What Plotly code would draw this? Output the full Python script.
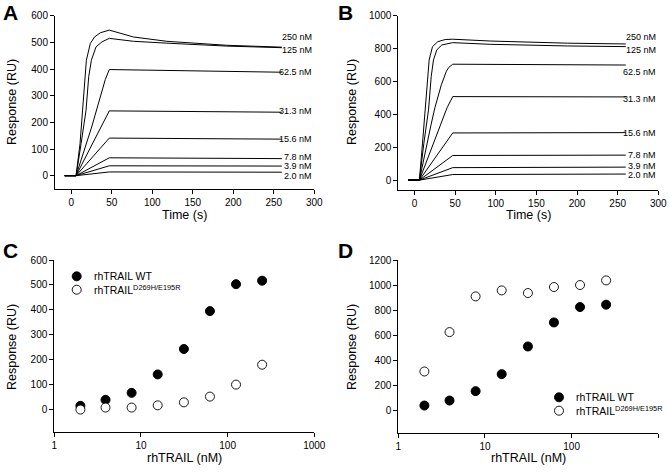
import plotly.graph_objects as go

# ---------------- Panel A (rhTRAIL WT sensorgrams) ----------------
A_t_250 = [-8, 6, 10.9, 14.2, 16.7, 18.7, 23.6, 29, 36, 47, 77, 118, 192, 260]
A_r_250 = [0, 0, 120, 245, 371, 433, 496, 521, 536, 546, 520, 504, 489, 482]
A_t_125 = [-8, 6, 12.2, 18.3, 21.6, 24.9, 30.6, 38, 47, 77, 118, 192, 260]
A_r_125 = [0, 0, 120, 245, 371, 433, 483, 502, 515, 504, 497, 486, 480]
A_t_625 = [-8, 6, 25.3, 37.4, 42, 47, 260]
A_r_625 = [0, 0, 183, 310, 360, 398, 388]
A_t_low = [-8, 6, 47, 260]
A_r_313 = [0, 0, 243, 238]
A_r_156 = [0, 0, 141, 137]
A_r_78 = [0, 0, 67, 64]
A_r_39 = [0, 0, 37, 36]
A_r_20 = [0, 0, 14, 13]
A_labels = ["250 nM", "125 nM", "62.5 nM", "31.3 nM", "15.6 nM", "7.8 nM", "3.9 nM", "2.0 nM"]
A_label_y = [521, 470, 389, 242, 138, 71, 35, 0]

# ---------------- Panel B (mutant sensorgrams) ----------------
B_t_250 = [-8, 6, 9.8, 13.1, 15.6, 18, 22.1, 28.6, 37.7, 47, 93, 188, 260]
B_r_250 = [0, 0, 225, 427, 630, 731, 812, 842, 855, 857, 846, 833, 828]
B_t_125 = [-8, 6, 11.5, 17.2, 20.5, 23.3, 27.4, 33.5, 47, 93, 188, 260]
B_r_125 = [0, 0, 225, 427, 630, 731, 792, 822, 836, 826, 816, 812]
B_t_625 = [-8, 6, 20, 25, 33, 39, 42, 47, 260]
B_r_625 = [0, 0, 330, 440, 580, 660, 685, 705, 700]
B_t_313 = [-8, 6, 40, 47, 260]
B_r_313 = [0, 0, 440, 508, 506]
B_t_low = [-8, 6, 47, 260]
B_r_156 = [0, 0, 287, 289]
B_r_78 = [0, 0, 150, 152]
B_r_39 = [0, 0, 76, 79]
B_r_20 = [0, 0, 34, 37]
B_labels = ["250 nM", "125 nM", "62.5 nM", "31.3 nM", "15.6 nM", "7.8 nM", "3.9 nM", "2.0 nM"]
B_label_y = [869, 792, 660, 494, 287, 152, 87, 30]

# ---------------- Panels C / D (dose response) ----------------
conc = [2.0, 3.9, 7.8, 15.6, 31.3, 62.5, 125, 250]
C_wt = [15, 39, 67, 141, 243, 395, 503, 517]
C_mut = [0, 8, 8, 17, 29, 52, 100, 180]
D_wt = [37, 77, 152, 288, 509, 701, 824, 843]
D_mut = [309, 624, 909, 957, 936, 984, 1000, 1037]

legend_names = ["rhTRAIL WT", "rhTRAIL<sup>D269H/E195R</sup>"]
log_ticks = [1, 10, 100, 1000]
log_tick_text = ["1", "10", "100", "1000"]

W, H = 669, 474
FONT = "Liberation Sans, Arial, sans-serif"

fig = go.Figure()

def line(x, y, xa, ya):
    fig.add_trace(go.Scatter(x=x, y=y, mode="lines", xaxis=xa, yaxis=ya,
                             line=dict(color="black", width=1), showlegend=False,
                             hoverinfo="skip"))

# Panel A
line(A_t_250, A_r_250, "x", "y")
line(A_t_125, A_r_125, "x", "y")
line(A_t_625, A_r_625, "x", "y")
for r in [A_r_313, A_r_156, A_r_78, A_r_39, A_r_20]:
    line(A_t_low, r, "x", "y")

# Panel B
line(B_t_250, B_r_250, "x2", "y2")
line(B_t_125, B_r_125, "x2", "y2")
line(B_t_625, B_r_625, "x2", "y2")
line(B_t_313, B_r_313, "x2", "y2")
for r in [B_r_156, B_r_78, B_r_39, B_r_20]:
    line(B_t_low, r, "x2", "y2")

filled = dict(color="black", size=9, line=dict(color="black", width=1))
opened = dict(color="white", size=9, line=dict(color="black", width=0.9))

# Panel C
fig.add_trace(go.Scatter(x=conc, y=C_wt, mode="markers", xaxis="x3", yaxis="y3",
                         marker=filled, showlegend=False, name=legend_names[0]))
fig.add_trace(go.Scatter(x=conc, y=C_mut, mode="markers", xaxis="x3", yaxis="y3",
                         marker=opened, showlegend=False, name=legend_names[1]))
# Panel D
fig.add_trace(go.Scatter(x=conc, y=D_wt, mode="markers", xaxis="x4", yaxis="y4",
                         marker=filled, showlegend=False, name=legend_names[0]))
fig.add_trace(go.Scatter(x=conc, y=D_mut, mode="markers", xaxis="x4", yaxis="y4",
                         marker=opened, showlegend=False, name=legend_names[1]))

def px_x(p):
    return p / W

def px_y(p):
    return 1 - p / H

axis_common = dict(showline=True, linecolor="black", linewidth=1, showgrid=False,
                   zeroline=False, ticks="outside", ticklen=4, tickwidth=1,
                   tickcolor="black", tickfont=dict(family=FONT, size=10, color="black"),
                   mirror=False, automargin=False)

xl = [px_x(55), px_x(314.3)]
xr = [px_x(398.3), px_x(658.3)]

fig.update_layout(
    template="none",
    width=W, height=H, margin=dict(l=0, r=0, t=0, b=0, pad=0),
    paper_bgcolor="white", plot_bgcolor="white",
    font=dict(family=FONT, color="black"),
    xaxis=dict(domain=xl, range=[-20, 300], tick0=0, dtick=50, anchor="y", **axis_common),
    yaxis=dict(domain=[px_y(189), px_y(15.7)], range=[-50, 600], dtick=100, anchor="x", **axis_common),
    xaxis2=dict(domain=xr, range=[-20, 300], tick0=0, dtick=50, anchor="y2", **axis_common),
    yaxis2=dict(domain=[px_y(190), px_y(15.7)], range=[-60, 1000], dtick=200, anchor="x2", **axis_common),
    xaxis3=dict(domain=[px_x(54.3), px_x(314.3)], type="log", range=[0, 3], tickvals=log_ticks,
                ticktext=log_tick_text, anchor="y3", **axis_common),
    yaxis3=dict(domain=[px_y(432), px_y(260)], range=[-90, 600], dtick=100, anchor="x3", **axis_common),
    xaxis4=dict(domain=xr, type="log", range=[0, 3], tickvals=log_ticks,
                ticktext=log_tick_text, anchor="y4", **axis_common),
    yaxis4=dict(domain=[px_y(432.7), px_y(260)], range=[-180, 1200], dtick=200, anchor="x4", **axis_common),
)

ann = []

def ptxt(text, xp, yp, size=12.5, bold=False, angle=0, xanchor="center", yanchor="middle"):
    ann.append(dict(text=("<b>%s</b>" % text) if bold else text, x=px_x(xp), y=px_y(yp),
                    xref="paper", yref="paper", showarrow=False, textangle=angle,
                    xanchor=xanchor, yanchor=yanchor,
                    font=dict(family=FONT, size=size, color="black")))

# panel letters
ptxt("A", 1, 12.5, size=21, bold=True, xanchor="left")
ptxt("B", 336, 12.5, size=21, bold=True, xanchor="left")
ptxt("C", 1, 250, size=21, bold=True, xanchor="left")
ptxt("D", 336, 250, size=21, bold=True, xanchor="left")

# axis titles
ptxt("Response (RU)", 12, 102, angle=-90)
ptxt("Response (RU)", 352, 102, angle=-90)
ptxt("Response (RU)", 12, 347, angle=-90)
ptxt("Response (RU)", 352, 347, angle=-90)
ptxt("Time (s)", 184, 215)
ptxt("Time (s)", 528, 215)
ptxt("rhTRAIL (nM)", 184, 458)
ptxt("rhTRAIL (nM)", 528, 458)

# concentration labels
for t, yv in zip(A_labels, A_label_y):
    ann.append(dict(text=t, x=300, y=yv, xref="x", yref="y", showarrow=False,
                    xanchor="right", yanchor="middle",
                    font=dict(family=FONT, size=9, color="black")))
for t, yv in zip(B_labels, B_label_y):
    ann.append(dict(text=t, x=300, y=yv, xref="x2", yref="y2", showarrow=False,
                    xanchor="right", yanchor="middle",
                    font=dict(family=FONT, size=9, color="black")))

# manual legends
shapes = []
def legend_at(mx, my1, my2, tx):
    for my, fill in [(my1, "black"), (my2, "white")]:
        shapes.append(dict(type="circle", xref="paper", yref="paper",
                           xsizemode="pixel", ysizemode="pixel",
                           xanchor=px_x(mx), yanchor=px_y(my),
                           x0=-4.5, x1=4.5, y0=-4.5, y1=4.5,
                           fillcolor=fill, line=dict(color="black", width=0.9)))
    ptxt(legend_names[0], tx, my1, size=10.5, xanchor="left")
    ptxt(legend_names[1], tx, my2, size=10.5, xanchor="left")

legend_at(76.7, 276.3, 289.7, 92)
legend_at(559, 397.3, 410.7, 574)

fig.update_layout(annotations=ann, shapes=shapes)

fig.write_html("out.html", config={"displayModeBar": False},
               post_script="document.body.style.margin='0';document.body.style.overflow='hidden';")
